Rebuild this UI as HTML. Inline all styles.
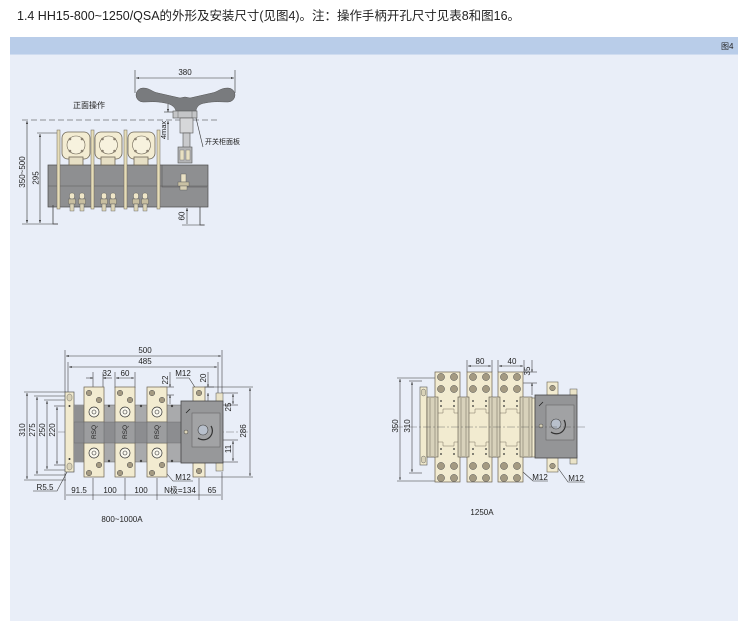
<!DOCTYPE html>
<html><head><meta charset="utf-8"><style>
html,body{margin:0;padding:0;background:#fff;}
svg{display:block;}
text{font-family:"Liberation Sans","Noto Sans CJK SC",sans-serif;fill:#222;}
</style></head><body>
<svg width="750" height="634" viewBox="0 0 750 634" xmlns="http://www.w3.org/2000/svg">
<defs>
<marker id="ar" viewBox="0 0 10 10" refX="10" refY="5" markerWidth="5" markerHeight="5" orient="auto-start-reverse"><path d="M0 1.5 L10 5 L0 8.5 z" fill="#333"/></marker>
</defs>
<rect width="750" height="634" fill="#fff"/>
<text x="17" y="20" font-size="12.5" textLength="503" lengthAdjust="spacingAndGlyphs">1.4 HH15-800~1250/QSA的外形及安装尺寸(见图4)。注：操作手柄开孔尺寸见表8和图16。</text>
<rect x="10" y="37" width="728" height="584" fill="#e9eef8"/>
<rect x="10" y="37" width="728" height="17" fill="#b9cde9"/>
<line x1="10" y1="54.5" x2="738" y2="54.5" stroke="#cfdcf0"/>
<text x="721" y="49" font-size="8">图4</text>

<!-- ================= TOP DRAWING ================= -->
<g stroke="#333" stroke-width="0.6" fill="none">
 <line x1="22" y1="120" x2="218" y2="120" stroke-dasharray="6 3"/>
 <line x1="27" y1="121" x2="27" y2="223" marker-start="url(#ar)" marker-end="url(#ar)"/>
 <line x1="22" y1="224" x2="58" y2="224"/>
 <line x1="37" y1="133" x2="58" y2="133"/>
 <line x1="40" y1="134" x2="40" y2="223" marker-start="url(#ar)" marker-end="url(#ar)"/>
 <!-- 380 -->
 <line x1="135" y1="70" x2="135" y2="93"/>
 <line x1="235" y1="70" x2="235" y2="93"/>
 <line x1="136" y1="78" x2="234" y2="78" marker-start="url(#ar)" marker-end="url(#ar)"/>
 <!-- 4max -->
 <line x1="164" y1="112" x2="174" y2="112"/>
 <line x1="168" y1="104" x2="168" y2="112" marker-end="url(#ar)"/>
 <line x1="168" y1="140" x2="168" y2="121" marker-end="url(#ar)"/>
 <!-- 60 -->
 <line x1="187" y1="224" x2="187" y2="208" marker-end="url(#ar)"/>
 <line x1="182" y1="225" x2="205" y2="225"/>
 <!-- leader -->
 <path d="M196 118 L203 147"/>
</g>
<text transform="translate(25,172) rotate(-90)" text-anchor="middle" font-size="8">350~500</text>
<text transform="translate(38.5,178) rotate(-90)" text-anchor="middle" font-size="8">295</text>
<text x="185" y="75" text-anchor="middle" font-size="8">380</text>
<text transform="translate(166,130) rotate(-90)" text-anchor="middle" font-size="7.5">4max</text>
<text transform="translate(184.5,216) rotate(-90)" text-anchor="middle" font-size="8">60</text>
<text x="205" y="144" font-size="7">开关柜面板</text>
<text x="73" y="108" font-size="8">正面操作</text>

<!-- handle -->
<path d="M143 88 C150 88,152 92,158 93 L180 98 L185 97 L190 98 L212 93 C218 92,220 88,228 88 A7 7 0 0 1 228 102 C220 102,215 101,205 103 C198 104,196 108,196 112 L176 112 C176 108,172 104,165 103 C155 101,150 102,143 102 A7 7 0 0 1 143 88 Z" fill="#797b7e" stroke="#555" stroke-width="0.5"/>
<rect x="173" y="111" width="24" height="7" fill="#c4c5c7" stroke="#555" stroke-width="0.6"/>
<line x1="178" y1="111" x2="178" y2="118" stroke="#666" stroke-width="0.5"/>
<line x1="192" y1="111" x2="192" y2="118" stroke="#666" stroke-width="0.5"/>
<rect x="180" y="118" width="13" height="15" fill="#d6d7d9" stroke="#555" stroke-width="0.6"/>
<rect x="183" y="133" width="7" height="15" fill="#c9cacc" stroke="#555" stroke-width="0.6"/>
<rect x="178" y="147" width="14" height="16" fill="#b3b4b6" stroke="#555" stroke-width="0.6"/>
<rect x="180" y="150" width="4" height="10" fill="#e8e0c2" stroke="#666" stroke-width="0.4"/>
<rect x="186" y="150" width="4" height="10" fill="#e8e0c2" stroke="#666" stroke-width="0.4"/>

<!-- body -->
<rect x="48" y="165" width="160" height="42" fill="#8e8f91" stroke="#4a4a4a" stroke-width="0.7"/>
<line x1="48" y1="186" x2="208" y2="186" stroke="#5a5a5a" stroke-width="0.6"/>
<path d="M162 165 V187 H207" stroke="#555" fill="none" stroke-width="0.6"/>
<rect x="181" y="174" width="5" height="8" fill="#e9e1c4" stroke="#555" stroke-width="0.4"/>
<rect x="178" y="182" width="11" height="4" fill="#c9c1a4" stroke="#555" stroke-width="0.4"/>
<rect x="180" y="186" width="7" height="4" fill="#d8d0b4" stroke="#555" stroke-width="0.4"/>
<!-- cream bars -->
<g fill="#e6ddb8" stroke="#6e6656" stroke-width="0.5">
 <rect x="57" y="130" width="3" height="79"/>
 <rect x="91" y="130" width="3" height="79"/>
 <rect x="124" y="130" width="3" height="79"/>
 <rect x="157" y="130" width="3" height="79"/>
</g>
<!-- pole modules -->
<g stroke="#6e6656" stroke-width="0.8">
 <rect x="62" y="132" width="28" height="27" rx="6" fill="#f3ecd2"/>
 <rect x="69" y="157" width="14" height="8" fill="#e6dfc5"/>
 <circle cx="76" cy="145" r="9" fill="#f7f2de" stroke-width="0.6"/>
 <rect x="95" y="132" width="27" height="27" rx="6" fill="#f3ecd2"/>
 <rect x="101" y="157" width="14" height="8" fill="#e6dfc5"/>
 <circle cx="108.5" cy="145" r="9" fill="#f7f2de" stroke-width="0.6"/>
 <rect x="128" y="132" width="27" height="27" rx="6" fill="#f3ecd2"/>
 <rect x="134" y="157" width="14" height="8" fill="#e6dfc5"/>
 <circle cx="141.5" cy="145" r="9" fill="#f7f2de" stroke-width="0.6"/>
</g>
<g fill="#8a8070">
 <circle cx="70" cy="139" r="1.3"/><circle cx="82" cy="139" r="1.3"/><circle cx="70" cy="151" r="1.3"/><circle cx="82" cy="151" r="1.3"/>
 <circle cx="102.5" cy="139" r="1.3"/><circle cx="114.5" cy="139" r="1.3"/><circle cx="102.5" cy="151" r="1.3"/><circle cx="114.5" cy="151" r="1.3"/>
 <circle cx="135.5" cy="139" r="1.3"/><circle cx="147.5" cy="139" r="1.3"/><circle cx="135.5" cy="151" r="1.3"/><circle cx="147.5" cy="151" r="1.3"/>
</g>
<!-- bottom terminal bolts -->
<g stroke="#555" stroke-width="0.4">
 <g fill="#efe6c8"><rect x="69.5" y="193" width="5" height="6" rx="2"/><rect x="79.5" y="193" width="5" height="6" rx="2"/><rect x="101.5" y="193" width="5" height="6" rx="2"/><rect x="110.5" y="193" width="5" height="6" rx="2"/><rect x="133.5" y="193" width="5" height="6" rx="2"/><rect x="142.5" y="193" width="5" height="6" rx="2"/></g>
 <g fill="#c7bea0"><rect x="68.5" y="199" width="7" height="5"/><rect x="78.5" y="199" width="7" height="5"/><rect x="100.5" y="199" width="7" height="5"/><rect x="109.5" y="199" width="7" height="5"/><rect x="132.5" y="199" width="7" height="5"/><rect x="141.5" y="199" width="7" height="5"/></g>
 <g fill="#ddd5b8"><rect x="70" y="204" width="4" height="7"/><rect x="80" y="204" width="4" height="7"/><rect x="102" y="204" width="4" height="7"/><rect x="111" y="204" width="4" height="7"/><rect x="134" y="204" width="4" height="7"/><rect x="143" y="204" width="4" height="7"/></g>
</g>
<!-- feet -->
<g stroke="#444" stroke-width="0.8" fill="none">
 <path d="M53 205 V224 H58"/>
 <path d="M200 207 V225 H204"/>
</g>

<!-- ================= BOTTOM LEFT (800~1000A) ================= -->
<g stroke="#333" stroke-width="0.55" fill="none">
 <line x1="65" y1="350" x2="65" y2="392"/>
 <line x1="222" y1="350" x2="222" y2="393"/>
 <line x1="68" y1="362" x2="68" y2="392"/>
 <line x1="218" y1="362" x2="218" y2="393"/>
 <line x1="66" y1="356" x2="221" y2="356" marker-start="url(#ar)" marker-end="url(#ar)"/>
 <line x1="69" y1="367" x2="217" y2="367" marker-start="url(#ar)" marker-end="url(#ar)"/>
 <!-- 32 / 60 -->
 <line x1="93" y1="372" x2="93" y2="388"/>
 <line x1="103" y1="372" x2="103" y2="388"/>
 <line x1="86" y1="378" x2="93" y2="378" marker-end="url(#ar)"/>
 <line x1="112" y1="378" x2="103" y2="378" marker-end="url(#ar)"/>
 <line x1="115" y1="372" x2="115" y2="388"/>
 <line x1="135" y1="372" x2="135" y2="388"/>
 <line x1="116" y1="378" x2="134" y2="378" marker-start="url(#ar)" marker-end="url(#ar)"/>
 <!-- 22 -->
 <line x1="160" y1="387" x2="174" y2="387"/>
 <line x1="160" y1="395" x2="174" y2="395"/>
 <line x1="170" y1="372" x2="170" y2="387" marker-end="url(#ar)"/>
 <line x1="170" y1="404" x2="170" y2="395" marker-end="url(#ar)"/>
 <!-- 20 -->
 <line x1="208" y1="372" x2="208" y2="387" marker-end="url(#ar)"/>
 <line x1="204" y1="387" x2="214" y2="387"/>
 <line x1="208" y1="404" x2="208" y2="393" marker-end="url(#ar)"/>
 <!-- 25 / 11 / 286 -->
 <line x1="222" y1="393" x2="238" y2="393"/>
 <line x1="222" y1="405" x2="238" y2="405"/>
 <line x1="233" y1="394" x2="233" y2="404" marker-start="url(#ar)" marker-end="url(#ar)"/>
 <line x1="222" y1="440" x2="238" y2="440"/>
 <line x1="222" y1="462" x2="238" y2="462"/>
 <line x1="233" y1="441" x2="233" y2="461" marker-start="url(#ar)" marker-end="url(#ar)"/>
 <line x1="205" y1="387" x2="253" y2="387"/>
 <line x1="205" y1="477" x2="253" y2="477"/>
 <line x1="250" y1="388" x2="250" y2="476" marker-start="url(#ar)" marker-end="url(#ar)"/>
 <!-- left dims -->
 <line x1="24" y1="392" x2="66" y2="392"/>
 <line x1="24" y1="480" x2="66" y2="480"/>
 <line x1="27" y1="393" x2="27" y2="479" marker-start="url(#ar)" marker-end="url(#ar)"/>
 <line x1="34" y1="396" x2="66" y2="396"/>
 <line x1="34" y1="475" x2="66" y2="475"/>
 <line x1="37" y1="397" x2="37" y2="474" marker-start="url(#ar)" marker-end="url(#ar)"/>
 <line x1="44" y1="400" x2="66" y2="400"/>
 <line x1="44" y1="470" x2="66" y2="470"/>
 <line x1="47" y1="401" x2="47" y2="469" marker-start="url(#ar)" marker-end="url(#ar)"/>
 <line x1="54" y1="406" x2="66" y2="406"/>
 <line x1="54" y1="465" x2="66" y2="465"/>
 <line x1="57" y1="407" x2="57" y2="464" marker-start="url(#ar)" marker-end="url(#ar)"/>
 <!-- bottom dims -->
 <line x1="65" y1="473" x2="65" y2="500"/>
 <line x1="93" y1="478" x2="93" y2="500"/>
 <line x1="125" y1="478" x2="125" y2="500"/>
 <line x1="157" y1="478" x2="157" y2="500"/>
 <line x1="199" y1="478" x2="199" y2="500"/>
 <line x1="222" y1="472" x2="222" y2="500"/>
 <line x1="66" y1="495" x2="221" y2="495"/>
 <!-- leaders -->
 <path d="M33 491 H57 L67 472"/>
 <path d="M176 378 H189 L198 392"/>
 <path d="M193 481 H173 L162 468"/>
</g>
<g stroke="#555" stroke-width="0.4" stroke-dasharray="8 2 2 2">
 <line x1="58" y1="432" x2="248" y2="432"/>
</g>

<!-- left bar -->
<rect x="65" y="392" width="9" height="80" fill="#f1eace" stroke="#555" stroke-width="0.7"/>
<rect x="67" y="394" width="5" height="7" rx="2.5" fill="#d9d2b8" stroke="#555" stroke-width="0.4"/>
<rect x="67" y="463" width="5" height="7" rx="2.5" fill="#d9d2b8" stroke="#555" stroke-width="0.4"/>
<circle cx="69.5" cy="406" r="1" fill="#333"/>
<circle cx="69.5" cy="459" r="1" fill="#333"/>
<!-- gray body -->
<rect x="74" y="405" width="108" height="57" fill="#a9aaac" stroke="#666" stroke-width="0.5"/>
<rect x="74" y="405" width="10" height="57" fill="#8f9092"/>
<rect x="74" y="422" width="108" height="21" fill="#8c8d90" stroke="#666" stroke-width="0.4"/>
<g fill="#444">
 <circle cx="109" cy="406" r="1.2"/><circle cx="109" cy="461" r="1.2"/>
 <circle cx="141" cy="406" r="1.2"/><circle cx="141" cy="461" r="1.2"/>
 <circle cx="172" cy="406" r="1.2"/><circle cx="172" cy="461" r="1.2"/>
</g>
<!-- poles -->
<g stroke="#6a6250" stroke-width="0.7" fill="#f2ebd0">
 <rect x="84" y="387" width="20" height="35"/><rect x="84" y="443" width="20" height="34"/>
 <rect x="115" y="387" width="20" height="35"/><rect x="115" y="443" width="20" height="34"/>
 <rect x="147" y="387" width="20" height="35"/><rect x="147" y="443" width="20" height="34"/>
</g>
<g stroke="#666" stroke-width="0.5" fill="#9c9d9f">
 <rect x="84" y="422" width="20" height="21"/>
 <rect x="115" y="422" width="20" height="21"/>
 <rect x="147" y="422" width="20" height="21"/>
</g>
<text transform="translate(96,432) rotate(-90)" text-anchor="middle" font-size="6.5" fill="#222">RSQ</text>
<text transform="translate(127,432) rotate(-90)" text-anchor="middle" font-size="6.5" fill="#222">RSQ</text>
<text transform="translate(159,432) rotate(-90)" text-anchor="middle" font-size="6.5" fill="#222">RSQ</text>
<g fill="#a49a82" stroke="#555" stroke-width="0.5">
 <circle cx="89" cy="393" r="2.8"/><circle cx="99" cy="400" r="2.8"/><circle cx="99" cy="465" r="2.8"/><circle cx="89" cy="473" r="2.8"/>
 <circle cx="120" cy="393" r="2.8"/><circle cx="130" cy="400" r="2.8"/><circle cx="130" cy="465" r="2.8"/><circle cx="120" cy="473" r="2.8"/>
 <circle cx="152" cy="393" r="2.8"/><circle cx="162" cy="400" r="2.8"/><circle cx="162" cy="465" r="2.8"/><circle cx="152" cy="473" r="2.8"/>
</g>
<g fill="#faf8ee" stroke="#333" stroke-width="0.7">
 <circle cx="94" cy="412" r="5"/><circle cx="94" cy="453" r="5"/>
 <circle cx="125" cy="412" r="5"/><circle cx="125" cy="453" r="5"/>
 <circle cx="157" cy="412" r="5"/><circle cx="157" cy="453" r="5"/>
</g>
<g fill="none" stroke="#333" stroke-width="0.6">
 <circle cx="94" cy="412" r="2"/><circle cx="94" cy="453" r="2"/>
 <circle cx="125" cy="412" r="2"/><circle cx="125" cy="453" r="2"/>
 <circle cx="157" cy="412" r="2"/><circle cx="157" cy="453" r="2"/>
</g>
<!-- N tab + box -->
<rect x="193" y="387" width="12" height="90" fill="#f2ebd0" stroke="#6a6250" stroke-width="0.7"/>
<rect x="216" y="393" width="7" height="9" fill="#eae3c8" stroke="#555" stroke-width="0.5"/>
<rect x="216" y="462" width="7" height="9" fill="#eae3c8" stroke="#555" stroke-width="0.5"/>
<rect x="181" y="401" width="42" height="62" fill="#97989a" stroke="#444" stroke-width="0.8"/>
<rect x="192" y="413" width="28" height="34" fill="#a2a3a5" stroke="#666" stroke-width="0.6"/>
<circle cx="203" cy="430" r="5" fill="#b8c0cc" stroke="#444" stroke-width="0.6"/>
<path d="M198 438 A9 9 0 0 0 211 426" fill="none" stroke="#333" stroke-width="1.2"/>
<line x1="186" y1="413" x2="190" y2="409" stroke="#222" stroke-width="0.8"/>
<circle cx="186" cy="432" r="2" fill="#d9d2b8" stroke="#444" stroke-width="0.5"/>
<g fill="#a49a82" stroke="#555" stroke-width="0.5">
 <circle cx="199" cy="393" r="2.8"/><circle cx="199" cy="471" r="2.8"/>
</g>
<!-- labels -->
<text x="145" y="353" text-anchor="middle" font-size="8">500</text>
<text x="145" y="364" text-anchor="middle" font-size="8">485</text>
<text x="107" y="376" text-anchor="middle" font-size="8">32</text>
<text x="125" y="376" text-anchor="middle" font-size="8">60</text>
<text x="183" y="376" text-anchor="middle" font-size="8">M12</text>
<text transform="translate(168,380) rotate(-90)" text-anchor="middle" font-size="8">22</text>
<text transform="translate(206,378) rotate(-90)" text-anchor="middle" font-size="8">20</text>
<text transform="translate(231,407) rotate(-90)" text-anchor="middle" font-size="8">25</text>
<text transform="translate(246,431) rotate(-90)" text-anchor="middle" font-size="8">286</text>
<text transform="translate(231,449) rotate(-90)" text-anchor="middle" font-size="8">11</text>
<text transform="translate(25,430) rotate(-90)" text-anchor="middle" font-size="8">310</text>
<text transform="translate(35,430) rotate(-90)" text-anchor="middle" font-size="8">275</text>
<text transform="translate(45,430) rotate(-90)" text-anchor="middle" font-size="8">250</text>
<text transform="translate(55,430) rotate(-90)" text-anchor="middle" font-size="8">220</text>
<text x="79" y="493" text-anchor="middle" font-size="8">91.5</text>
<text x="110" y="493" text-anchor="middle" font-size="8">100</text>
<text x="141" y="493" text-anchor="middle" font-size="8">100</text>
<text x="180" y="493" text-anchor="middle" font-size="8">N极=134</text>
<text x="212" y="493" text-anchor="middle" font-size="8">65</text>
<text x="45" y="490" text-anchor="middle" font-size="8">R5.5</text>
<text x="183" y="480" text-anchor="middle" font-size="8">M12</text>
<text x="122" y="522" text-anchor="middle" font-size="8">800~1000A</text>

<!-- ================= BOTTOM RIGHT (1250A) ================= -->
<g stroke="#333" stroke-width="0.55" fill="none">
 <line x1="467" y1="360" x2="467" y2="372"/>
 <line x1="492" y1="360" x2="492" y2="372"/>
 <line x1="468" y1="366" x2="491" y2="366" marker-start="url(#ar)" marker-end="url(#ar)"/>
 <line x1="498" y1="360" x2="498" y2="372"/>
 <line x1="524" y1="360" x2="524" y2="372"/>
 <line x1="499" y1="366" x2="523" y2="366" marker-start="url(#ar)" marker-end="url(#ar)"/>
 <line x1="523" y1="372" x2="537" y2="372"/>
 <line x1="523" y1="383" x2="537" y2="383"/>
 <line x1="532" y1="360" x2="532" y2="372" marker-end="url(#ar)"/>
 <line x1="532" y1="395" x2="532" y2="383" marker-end="url(#ar)"/>
 <line x1="397" y1="378" x2="437" y2="378"/>
 <line x1="397" y1="481" x2="437" y2="481"/>
 <line x1="400" y1="379" x2="400" y2="480" marker-start="url(#ar)" marker-end="url(#ar)"/>
 <line x1="409" y1="381" x2="422" y2="381"/>
 <line x1="409" y1="473" x2="422" y2="473"/>
 <line x1="412" y1="382" x2="412" y2="472" marker-start="url(#ar)" marker-end="url(#ar)"/>
 <path d="M548 481 H533 L523 472"/>
 <path d="M585 482 H568 L558 468"/>
</g>
<!-- left bar -->
<rect x="420" y="387" width="7" height="78" fill="#f1eace" stroke="#555" stroke-width="0.6"/>
<rect x="421.5" y="389" width="4" height="7" rx="2" fill="#d9d2b8" stroke="#555" stroke-width="0.4"/>
<rect x="421.5" y="456" width="4" height="7" rx="2" fill="#d9d2b8" stroke="#555" stroke-width="0.4"/>
<!-- middle band -->
<rect x="427" y="398" width="108" height="59" fill="#f2ebd0" stroke="#6a6250" stroke-width="0.6"/>
<!-- poles -->
<g stroke="#6a6250" stroke-width="0.7" fill="#f2ebd0">
 <rect x="435" y="372" width="25" height="110"/>
 <rect x="467" y="372" width="25" height="110"/>
 <rect x="498" y="372" width="25" height="110"/>
</g>
<g stroke="#7a7262" stroke-width="0.5" fill="none">
 <path d="M437 413 H443 V409 H454 V413 H460"/><path d="M437 442 H443 V446 H454 V442 H460"/>
 <path d="M469 413 H475 V409 H486 V413 H492"/><path d="M469 442 H475 V446 H486 V442 H492"/>
 <path d="M500 413 H506 V409 H517 V413 H523"/><path d="M500 442 H506 V446 H517 V442 H523"/>
</g>
<g fill="#a49a82" stroke="#555" stroke-width="0.5">
 <circle cx="441" cy="377" r="3.6"/><circle cx="454" cy="377" r="3.6"/><circle cx="441" cy="389" r="3.6"/><circle cx="454" cy="389" r="3.6"/>
 <circle cx="441" cy="466" r="3.6"/><circle cx="454" cy="466" r="3.6"/><circle cx="441" cy="478" r="3.6"/><circle cx="454" cy="478" r="3.6"/>
 <circle cx="473" cy="377" r="3.6"/><circle cx="486" cy="377" r="3.6"/><circle cx="473" cy="389" r="3.6"/><circle cx="486" cy="389" r="3.6"/>
 <circle cx="473" cy="466" r="3.6"/><circle cx="486" cy="466" r="3.6"/><circle cx="473" cy="478" r="3.6"/><circle cx="486" cy="478" r="3.6"/>
 <circle cx="504" cy="377" r="3.6"/><circle cx="517" cy="377" r="3.6"/><circle cx="504" cy="389" r="3.6"/><circle cx="517" cy="389" r="3.6"/>
 <circle cx="504" cy="466" r="3.6"/><circle cx="517" cy="466" r="3.6"/><circle cx="504" cy="478" r="3.6"/><circle cx="517" cy="478" r="3.6"/>
</g>
<g fill="#333">
 <circle cx="441" cy="401" r="0.9"/><circle cx="454" cy="401" r="0.9"/><circle cx="441" cy="406" r="0.9"/><circle cx="454" cy="406" r="0.9"/>
 <circle cx="441" cy="449" r="0.9"/><circle cx="454" cy="449" r="0.9"/><circle cx="441" cy="454" r="0.9"/><circle cx="454" cy="454" r="0.9"/>
 <circle cx="473" cy="401" r="0.9"/><circle cx="486" cy="401" r="0.9"/><circle cx="473" cy="406" r="0.9"/><circle cx="486" cy="406" r="0.9"/>
 <circle cx="473" cy="449" r="0.9"/><circle cx="486" cy="449" r="0.9"/><circle cx="473" cy="454" r="0.9"/><circle cx="486" cy="454" r="0.9"/>
 <circle cx="504" cy="401" r="0.9"/><circle cx="517" cy="401" r="0.9"/><circle cx="504" cy="406" r="0.9"/><circle cx="517" cy="406" r="0.9"/>
 <circle cx="504" cy="449" r="0.9"/><circle cx="517" cy="449" r="0.9"/><circle cx="504" cy="454" r="0.9"/><circle cx="517" cy="454" r="0.9"/>
</g>
<!-- cylinders -->
<g stroke="#5a5448" stroke-width="0.6">
 <rect x="427" y="397" width="11" height="60" fill="#d8d2bb"/>
 <rect x="458" y="397" width="11" height="60" fill="#d8d2bb"/>
 <rect x="489" y="397" width="11" height="60" fill="#d8d2bb"/>
 <rect x="520" y="397" width="12" height="60" fill="#d8d2bb"/>
</g>
<g stroke="#a29c88" stroke-width="1">
 <line x1="430" y1="398" x2="430" y2="456"/><line x1="435" y1="398" x2="435" y2="456"/>
 <line x1="461" y1="398" x2="461" y2="456"/><line x1="466" y1="398" x2="466" y2="456"/>
 <line x1="492" y1="398" x2="492" y2="456"/><line x1="497" y1="398" x2="497" y2="456"/>
 <line x1="523" y1="398" x2="523" y2="456"/><line x1="529" y1="398" x2="529" y2="456"/>
</g>
<!-- operator box -->
<rect x="547" y="382" width="11" height="90" fill="#f2ebd0" stroke="#6a6250" stroke-width="0.6"/>
<rect x="570" y="389" width="7" height="9" fill="#eae3c8" stroke="#555" stroke-width="0.5"/>
<rect x="570" y="455" width="7" height="9" fill="#eae3c8" stroke="#555" stroke-width="0.5"/>
<rect x="535" y="395" width="42" height="63" fill="#949597" stroke="#444" stroke-width="0.8"/>
<rect x="546" y="405" width="28" height="35" fill="#a1a2a4" stroke="#666" stroke-width="0.6"/>
<circle cx="556" cy="424" r="5" fill="#b8c0cc" stroke="#444" stroke-width="0.6"/>
<path d="M551 432 A9 9 0 0 0 564 420" fill="none" stroke="#333" stroke-width="1.2"/>
<line x1="539" y1="406" x2="543" y2="402" stroke="#222" stroke-width="0.8"/>
<circle cx="541" cy="426" r="2" fill="#d9d2b8" stroke="#444" stroke-width="0.5"/>
<g fill="#a49a82" stroke="#555" stroke-width="0.5">
 <circle cx="552.5" cy="388" r="2.8"/><circle cx="552.5" cy="466" r="2.8"/>
</g>
<g stroke="#555" stroke-width="0.4" stroke-dasharray="8 2 2 2">
 <line x1="395" y1="427" x2="585" y2="427"/>
</g>
<text x="480" y="364" text-anchor="middle" font-size="8">80</text>
<text x="512" y="364" text-anchor="middle" font-size="8">40</text>
<text transform="translate(530,371) rotate(-90)" text-anchor="middle" font-size="8">35</text>
<text transform="translate(398,426) rotate(-90)" text-anchor="middle" font-size="8">350</text>
<text transform="translate(410,426) rotate(-90)" text-anchor="middle" font-size="8">310</text>
<text x="540" y="480" text-anchor="middle" font-size="8">M12</text>
<text x="576" y="481" text-anchor="middle" font-size="8">M12</text>
<text x="482" y="515" text-anchor="middle" font-size="8">1250A</text>
</svg>
</body></html>
